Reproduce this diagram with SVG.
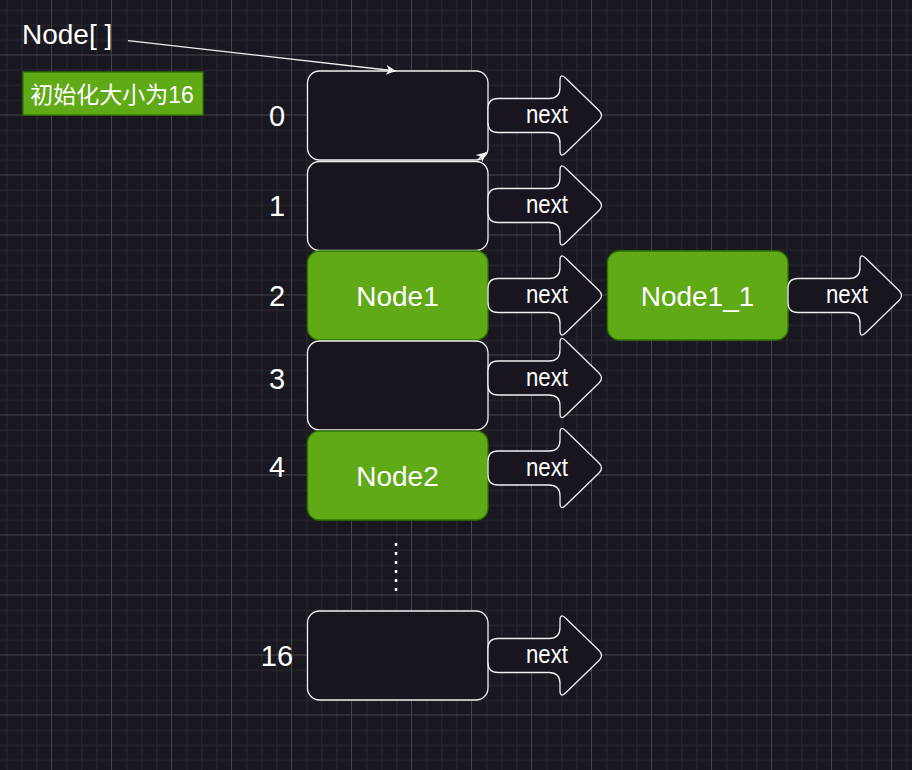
<svg xmlns="http://www.w3.org/2000/svg" xmlns:xlink="http://www.w3.org/1999/xlink" width="912" height="770" viewBox="0 0 912 770">
  <style>
    .box { fill: #18151e; stroke: #f0f0f0; stroke-width: 1.3; }
    .green { fill: #60a917; stroke: #2d7600; stroke-width: 1.3; }
    .arrow { fill: #18151e; stroke: #f0f0f0; stroke-width: 1.3; stroke-linejoin: round; }
    .t { font-family: "Liberation Sans", Arial, sans-serif; fill: #ffffff; }
    .idx { font-size: 29px; text-anchor: middle; }
    .big { font-size: 28px; text-anchor: middle; }
    .nx { font-size: 26px; text-anchor: middle; }
  </style>
  <defs>
    <pattern id="grid" patternUnits="userSpaceOnUse" x="-9" y="-5.5" width="60" height="60">
      <rect x="0" y="0" width="60" height="60" fill="#19171f"/>
      <rect x="15" y="0" width="1.6" height="60" fill="#25232a"/>
      <rect x="30" y="0" width="1.6" height="60" fill="#25232a"/>
      <rect x="45" y="0" width="1.6" height="60" fill="#25232a"/>
      <rect x="0" y="15" width="60" height="1.6" fill="#25232a"/>
      <rect x="0" y="30" width="60" height="1.6" fill="#25232a"/>
      <rect x="0" y="45" width="60" height="1.6" fill="#25232a"/>
      <rect x="60" y="0" width="1" height="60" fill="#46444b"/>
      <rect x="0" y="0" width="1" height="60" fill="#46444b"/>
      <rect x="0" y="0" width="60" height="1" fill="#46444b"/>
    </pattern>
    <path id="blockArrow" class="arrow" d="M10,-17 L61,-17 Q72,-17 72,-28 L72,-35 Q72,-43 78,-37 L111,-5 Q116,0 111,5 L78,37 Q72,43 72,35 L72,28 Q72,17 61,17 L10,17 Q0,17 0,7 L0,-7 Q0,-17 10,-17 Z"/>
    <marker id="classic" markerUnits="userSpaceOnUse" viewBox="0 0 10 10" refX="10" refY="5" markerWidth="13" markerHeight="10" orient="auto">
      <path d="M0,0 L10,5 L0,10 L3,5 Z" fill="#f0f0f0"/>
    </marker>
  </defs>

  <rect x="0" y="0" width="912" height="770" fill="url(#grid)"/>

  <g id="title">
    <text class="t" x="22" y="43.5" font-size="28">Node[ ]</text>
  </g>

  <g id="init-label">
    <rect x="23" y="72" width="180" height="43" fill="#60a917" stroke="#2d7600" stroke-width="1.3"/>
    <text x="112" y="102.5" font-size="23" text-anchor="middle" fill="#ffffff" font-family="'Liberation Sans', 'Noto Sans CJK SC', sans-serif">初始化大小为16</text>
  </g>

  <g id="indices" class="t idx">
    <text x="277" y="125.5">0</text>
    <text x="277" y="215.5">1</text>
    <text x="277" y="305.5">2</text>
    <text x="277" y="388.5">3</text>
    <text x="277" y="477">4</text>
    <text x="277" y="665.5">16</text>
  </g>

  <g id="slot0"><rect class="box" x="307.5" y="71" width="180.5" height="89" rx="12"/></g>
  <g id="slot1"><rect class="box" x="307.5" y="161.5" width="180.5" height="89" rx="12"/></g>
  <g id="slot2">
    <rect class="green" x="307.5" y="251" width="180.5" height="89" rx="12"/>
    <text class="t big" x="397.5" y="305.5">Node1</text>
  </g>
  <g id="slot3"><rect class="box" x="307.5" y="341" width="180.5" height="89" rx="12"/></g>
  <g id="slot4">
    <rect class="green" x="307.5" y="431" width="180.5" height="89" rx="12"/>
    <text class="t big" x="397.5" y="486">Node2</text>
  </g>
  <g id="ellipsis">
    <line x1="396" y1="543" x2="396" y2="592" stroke="#ffffff" stroke-width="2.5" stroke-dasharray="3 6"/>
  </g>
  <g id="slot16"><rect class="box" x="307.5" y="611" width="180.5" height="89" rx="12"/></g>
  <g id="node1_1">
    <rect class="green" x="607.5" y="251" width="180.5" height="89" rx="12"/>
    <text class="t big" x="697.5" y="305.5">Node1_1</text>
  </g>

  <g id="next-arrows">
    <g id="next0"><use xlink:href="#blockArrow" href="#blockArrow" transform="translate(488,115.5)"/><text class="t nx" x="547" y="123" textLength="42" lengthAdjust="spacingAndGlyphs">next</text></g>
    <g id="next1"><use xlink:href="#blockArrow" href="#blockArrow" transform="translate(488,205.5)"/><text class="t nx" x="547" y="213" textLength="42" lengthAdjust="spacingAndGlyphs">next</text></g>
    <g id="next2"><use xlink:href="#blockArrow" href="#blockArrow" transform="translate(488,295.5)"/><text class="t nx" x="547" y="303" textLength="42" lengthAdjust="spacingAndGlyphs">next</text></g>
    <g id="next3"><use xlink:href="#blockArrow" href="#blockArrow" transform="translate(488,378)"/><text class="t nx" x="547" y="385.5" textLength="42" lengthAdjust="spacingAndGlyphs">next</text></g>
    <g id="next4"><use xlink:href="#blockArrow" href="#blockArrow" transform="translate(488,468)"/><text class="t nx" x="547" y="475.5" textLength="42" lengthAdjust="spacingAndGlyphs">next</text></g>
    <g id="next16"><use xlink:href="#blockArrow" href="#blockArrow" transform="translate(488,655.5)"/><text class="t nx" x="547" y="663" textLength="42" lengthAdjust="spacingAndGlyphs">next</text></g>
    <g id="next1_1"><use xlink:href="#blockArrow" href="#blockArrow" transform="translate(788,295.5)"/><text class="t nx" x="847" y="303" textLength="42" lengthAdjust="spacingAndGlyphs">next</text></g>
  </g>

  <g id="connectors" fill="none" stroke="#f0f0f0" stroke-width="1.3">
    <path d="M128,40.7 L396,71" marker-end="url(#classic)"/>
    <path d="M478.5,159 L486.5,152.3" marker-end="url(#classic)"/>
  </g>
</svg>
